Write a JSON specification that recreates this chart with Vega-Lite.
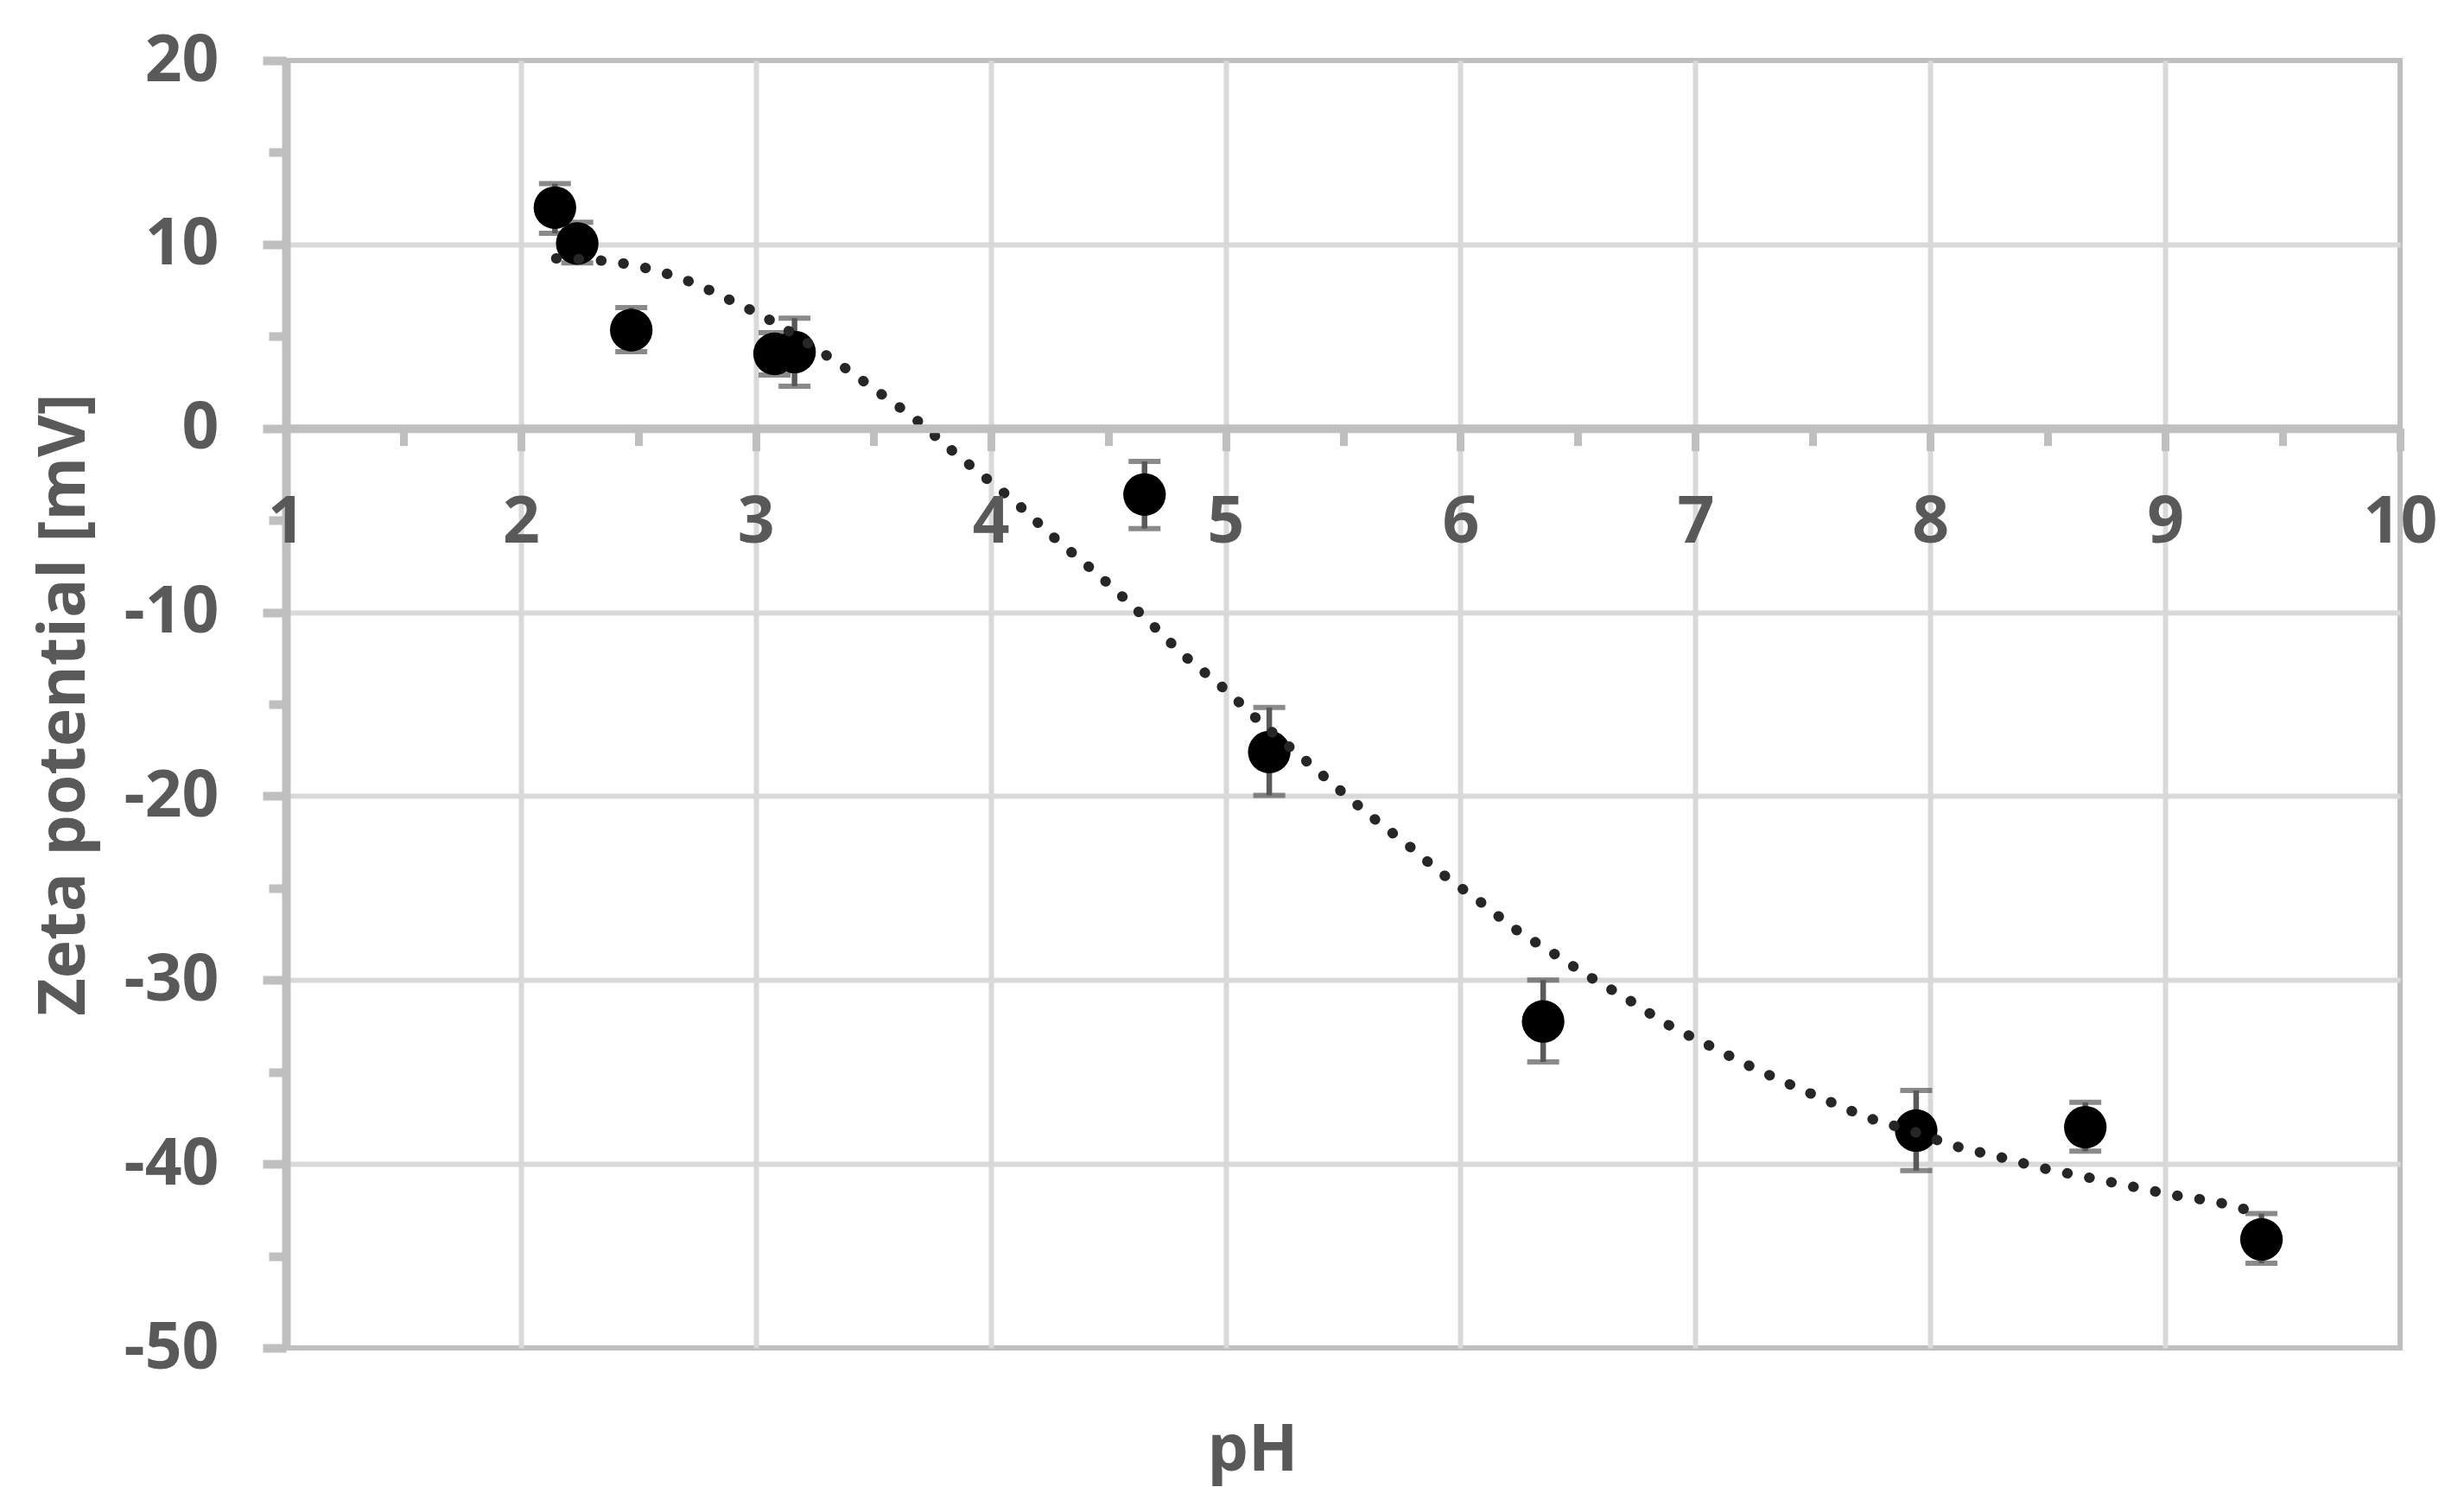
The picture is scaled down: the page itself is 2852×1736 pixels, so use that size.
{
  "$schema": "https://vega.github.io/schema/vega-lite/v6.json",
  "width": 2447,
  "height": 1490,
  "autosize": {"type": "none"},
  "padding": {"left": 331, "top": 70, "right": 74, "bottom": 176},
  "background": "white",
  "config": {
    "view": {"stroke": "#bfbfbf", "strokeWidth": 6},
    "axis": {
      "labelFont": "Open Sans",
      "titleFont": "Open Sans",
      "labelFontWeight": "bold",
      "titleFontWeight": "bold",
      "labelColor": "#595959",
      "titleColor": "#595959",
      "labelFontSize": 75,
      "titleFontSize": 75
    }
  },
  "datasets": {
    "points": [
      {"pH": 2.145, "zeta": 12.0, "lo": 10.6, "hi": 13.3},
      {"pH": 2.24, "zeta": 10.05, "lo": 9.0, "hi": 11.2},
      {"pH": 2.47, "zeta": 5.34, "lo": 4.17, "hi": 6.56},
      {"pH": 3.08, "zeta": 4.05, "lo": 2.9, "hi": 5.2},
      {"pH": 3.165, "zeta": 4.15, "lo": 2.29, "hi": 5.99},
      {"pH": 4.655, "zeta": -3.6, "lo": -5.45, "hi": -1.8},
      {"pH": 5.186, "zeta": -17.6, "lo": -19.96, "hi": -15.18},
      {"pH": 6.352, "zeta": -32.25, "lo": -34.45, "hi": -30.0},
      {"pH": 7.94, "zeta": -38.18, "lo": -40.36, "hi": -36.0},
      {"pH": 8.66, "zeta": -38.0, "lo": -39.3, "hi": -36.65},
      {"pH": 9.41, "zeta": -44.1, "lo": -45.4, "hi": -42.7}
    ],
    "trend": [
      {"pH": 2.15, "zeta": 9.24},
      {"pH": 2.35, "zeta": 9.11},
      {"pH": 2.53, "zeta": 8.72},
      {"pH": 2.72, "zeta": 7.97},
      {"pH": 2.89, "zeta": 6.98},
      {"pH": 3.06, "zeta": 5.89},
      {"pH": 3.22, "zeta": 4.64},
      {"pH": 3.38, "zeta": 3.28},
      {"pH": 3.53, "zeta": 1.9},
      {"pH": 3.69, "zeta": 0.39},
      {"pH": 3.83, "zeta": -1.15},
      {"pH": 3.98, "zeta": -2.71},
      {"pH": 4.13, "zeta": -4.3},
      {"pH": 4.27, "zeta": -5.94},
      {"pH": 4.42, "zeta": -7.55},
      {"pH": 4.56, "zeta": -9.14},
      {"pH": 4.7, "zeta": -10.83},
      {"pH": 4.83, "zeta": -12.42},
      {"pH": 4.98, "zeta": -14.0},
      {"pH": 5.16, "zeta": -16.1},
      {"pH": 5.34, "zeta": -18.05},
      {"pH": 5.48, "zeta": -19.6},
      {"pH": 5.63, "zeta": -21.2},
      {"pH": 5.78, "zeta": -22.7},
      {"pH": 5.93, "zeta": -24.3},
      {"pH": 6.08, "zeta": -25.7},
      {"pH": 6.23, "zeta": -27.2},
      {"pH": 6.39, "zeta": -28.5},
      {"pH": 6.56, "zeta": -29.9},
      {"pH": 6.72, "zeta": -31.1},
      {"pH": 6.88, "zeta": -32.4},
      {"pH": 7.05, "zeta": -33.5},
      {"pH": 7.22, "zeta": -34.6},
      {"pH": 7.39, "zeta": -35.6},
      {"pH": 7.57, "zeta": -36.6},
      {"pH": 7.74, "zeta": -37.5},
      {"pH": 7.92, "zeta": -38.2},
      {"pH": 8.1, "zeta": -39.0},
      {"pH": 8.29, "zeta": -39.6},
      {"pH": 8.47, "zeta": -40.2},
      {"pH": 8.66, "zeta": -40.7},
      {"pH": 8.85, "zeta": -41.2},
      {"pH": 9.04, "zeta": -41.7},
      {"pH": 9.23, "zeta": -42.1},
      {"pH": 9.35, "zeta": -42.5}
    ]
  },
  "layer": [
    {
      "data": {"name": "points"},
      "mark": {"type": "rule", "color": "#595959", "strokeWidth": 6.5},
      "encoding": {
        "x": {
          "field": "pH", "type": "quantitative",
          "scale": {"domain": [1, 10], "nice": false, "zero": false},
          "axis": {
            "orient": "bottom", "values": [2, 3, 4, 5, 6, 7, 8, 9],
            "labels": false, "domain": false, "ticks": false, "grid": true,
            "gridColor": "#d9d9d9", "gridWidth": 6, "title": null
          }
        },
        "y": {
          "field": "lo", "type": "quantitative",
          "scale": {"domain": [-50, 20], "nice": false, "zero": false},
          "axis": {
            "orient": "left", "values": [10, -10, -20, -30, -40],
            "labels": false, "domain": false, "ticks": false, "grid": true,
            "gridColor": "#d9d9d9", "gridWidth": 6, "title": null
          }
        },
        "y2": {"field": "hi"}
      }
    },
    {
      "data": {"name": "points"},
      "mark": {"type": "tick", "orient": "horizontal", "color": "#595959", "size": 37, "thickness": 6},
      "encoding": {
        "x": {
          "field": "pH", "type": "quantitative",
          "axis": {
            "orient": "bottom", "offset": -1064.3,
            "values": [1.5, 2.5, 3.5, 4.5, 5.5, 6.5, 7.5, 8.5, 9.5],
            "labels": false, "domain": false, "grid": false, "ticks": true,
            "tickColor": "#bfbfbf", "tickWidth": 9, "tickSize": 20, "title": null
          }
        },
        "y": {
          "field": "lo", "type": "quantitative",
          "axis": {
            "orient": "left",
            "values": [15, 5, -5, -15, -25, -35, -45],
            "labels": false, "domain": false, "grid": false, "ticks": true,
            "tickColor": "#bfbfbf", "tickWidth": 10, "tickSize": 20, "title": null
          }
        }
      }
    },
    {
      "data": {"name": "points"},
      "mark": {"type": "tick", "orient": "horizontal", "color": "#595959", "size": 37, "thickness": 6},
      "encoding": {
        "x": {
          "field": "pH", "type": "quantitative",
          "axis": {
            "orient": "bottom", "offset": -1064.3, "zindex": 1,
            "values": [1, 2, 3, 4, 5, 6, 7, 8, 9, 10],
            "grid": false, "domainColor": "#bfbfbf", "domainWidth": 10,
            "tickColor": "#bfbfbf", "tickWidth": 9, "tickSize": 26,
            "labelPadding": 106, "labelBaseline": "alphabetic",
            "labelFlush": false, "labelOverlap": false, "labelBound": false,
            "labelExpr": "'' + datum.value",
            "title": "pH", "titleX": 1118.5, "titleY": 1206,
            "titleBaseline": "alphabetic", "titleAlign": "center", "titleAngle": 0
          }
        },
        "y": {
          "field": "hi", "type": "quantitative",
          "axis": {
            "orient": "left",
            "values": [20, 10, 0, -10, -20, -30, -40, -50],
            "grid": false, "domainColor": "#bfbfbf", "domainWidth": 10,
            "tickColor": "#bfbfbf", "tickWidth": 10, "tickSize": 27,
            "labelPadding": 51, "labelAlign": "right", "labelBaseline": "middle",
            "labelFlush": false, "labelOverlap": false, "labelBound": false,
            "labelExpr": "'' + datum.value",
            "title": "Zeta potential [mV]", "titleAngle": -90,
            "titleX": -234, "titleY": 745,
            "titleBaseline": "alphabetic", "titleAlign": "center"
          }
        }
      }
    },
    {
      "data": {"name": "points"},
      "mark": {"type": "point", "filled": true, "color": "#000000", "opacity": 1, "size": 2430, "shape": "circle"},
      "encoding": {
        "x": {"field": "pH", "type": "quantitative", "axis": null},
        "y": {"field": "zeta", "type": "quantitative", "axis": null}
      }
    },
    {
      "data": {"name": "trend"},
      "mark": {"type": "line", "color": "#262626", "strokeWidth": 12, "strokeCap": "round", "strokeDash": [0.5, 25.5], "interpolate": "monotone"},
      "encoding": {
        "x": {"field": "pH", "type": "quantitative", "axis": null},
        "y": {"field": "zeta", "type": "quantitative", "axis": null}
      }
    }
  ],
  "resolve": {"axis": {"x": "independent", "y": "independent"}}
}
